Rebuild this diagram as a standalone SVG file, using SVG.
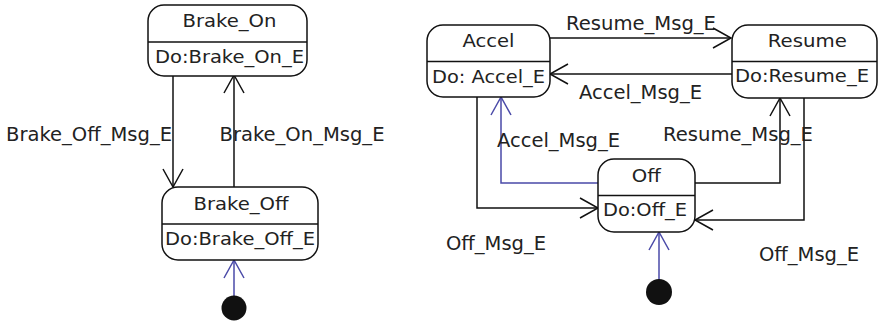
<svg xmlns="http://www.w3.org/2000/svg" width="878" height="326" viewBox="0 0 878 326">
<style>
.box{fill:#fff;stroke:#111;stroke-width:1.5}
.div{stroke:#111;stroke-width:1.5}
.t{font-family:"DejaVu Sans",sans-serif;font-size:17px;fill:#222;text-anchor:middle}
.lbl{font-family:"DejaVu Sans",sans-serif;font-size:20px;fill:#222}
.c{fill:none;stroke:#111;stroke-width:1.5}
.cb{fill:none;stroke:#4a4aa8;stroke-width:1.5}
</style>
<defs>
<marker id="ah" markerUnits="userSpaceOnUse" markerWidth="24" markerHeight="24" viewBox="-20 -12 22 24" refX="0" refY="0" orient="auto">
<path d="M-18,-10 L0,0 L-18,10" fill="none" stroke="#111" stroke-width="1.5"/>
</marker>
<marker id="ahb" markerUnits="userSpaceOnUse" markerWidth="24" markerHeight="24" viewBox="-20 -12 22 24" refX="0" refY="0" orient="auto">
<path d="M-18,-10 L0,0 L-18,10" fill="none" stroke="#4a4aa8" stroke-width="1.5"/>
</marker>
</defs>
<g id="connectors">
<path class="c" d="M173,76 L173,187" marker-end="url(#ah)"/>
<path class="c" d="M234,187 L234,75" marker-end="url(#ah)"/>
<path class="cb" d="M234,296 L234,260" marker-end="url(#ahb)"/>
<path class="c" d="M550,38 L731,38" marker-end="url(#ah)"/>
<path class="c" d="M732,74 L550,74" marker-end="url(#ah)"/>
<path class="cb" d="M598,183 L501,183 L501,97" marker-end="url(#ahb)"/>
<path class="c" d="M695,183 L780,183 L780,98" marker-end="url(#ah)"/>
<path class="c" d="M477,97 L477,208 L598,208" marker-end="url(#ah)"/>
<path class="c" d="M804,98 L804,220 L695,220" marker-end="url(#ah)"/>
<path class="cb" d="M659,280 L659,232" marker-end="url(#ahb)"/>
<text class="lbl" x="6" y="141" textLength="166" lengthAdjust="spacingAndGlyphs">Brake_Off_Msg_E</text>
<text class="lbl" x="219.5" y="141" textLength="165" lengthAdjust="spacingAndGlyphs">Brake_On_Msg_E</text>
<text class="lbl" x="566" y="30" textLength="150" lengthAdjust="spacingAndGlyphs">Resume_Msg_E</text>
<text class="lbl" x="579" y="99" textLength="123" lengthAdjust="spacingAndGlyphs">Accel_Msg_E</text>
<text class="lbl" x="497" y="147" textLength="123" lengthAdjust="spacingAndGlyphs">Accel_Msg_E</text>
<text class="lbl" x="663" y="141" textLength="150" lengthAdjust="spacingAndGlyphs">Resume_Msg_E</text>
<text class="lbl" x="446" y="250" textLength="100" lengthAdjust="spacingAndGlyphs">Off_Msg_E</text>
<text class="lbl" x="759" y="261" textLength="100" lengthAdjust="spacingAndGlyphs">Off_Msg_E</text>
</g>
<g id="brake_on">
<rect class="box" x="148" y="5" width="159" height="71" rx="16"/>
<line class="div" x1="148" y1="42" x2="307" y2="42"/>
<text class="t" x="229.5" y="27" textLength="94" lengthAdjust="spacingAndGlyphs">Brake_On</text>
<text class="t" x="229.5" y="63" textLength="149" lengthAdjust="spacingAndGlyphs">Do:Brake_On_E</text>
</g>
<g id="brake_off">
<rect class="box" x="162" y="187" width="156" height="73" rx="16"/>
<line class="div" x1="162" y1="224" x2="318" y2="224"/>
<text class="t" x="241" y="210" textLength="95" lengthAdjust="spacingAndGlyphs">Brake_Off</text>
<text class="t" x="240" y="245" textLength="150" lengthAdjust="spacingAndGlyphs">Do:Brake_Off_E</text>
</g>
<g id="brake_init">
<circle cx="234" cy="308" r="12.5" fill="#111"/>
</g>
<g id="accel">
<rect class="box" x="427" y="25" width="123" height="72" rx="16"/>
<line class="div" x1="427" y1="61.5" x2="550" y2="61.5"/>
<text class="t" x="488.5" y="47" textLength="52" lengthAdjust="spacingAndGlyphs">Accel</text>
<text class="t" x="488.5" y="83" textLength="113" lengthAdjust="spacingAndGlyphs">Do: Accel_E</text>
</g>
<g id="resume">
<rect class="box" x="732" y="25" width="145" height="73" rx="16"/>
<line class="div" x1="732" y1="61.5" x2="877" y2="61.5"/>
<text class="t" x="807.3" y="47" textLength="79" lengthAdjust="spacingAndGlyphs">Resume</text>
<text class="t" x="802" y="82" textLength="134" lengthAdjust="spacingAndGlyphs">Do:Resume_E</text>
</g>
<g id="off">
<rect class="box" x="598" y="159" width="97" height="73" rx="16"/>
<line class="div" x1="598" y1="195.5" x2="695" y2="195.5"/>
<text class="t" x="646.3" y="181.5" textLength="29" lengthAdjust="spacingAndGlyphs">Off</text>
<text class="t" x="645" y="216" textLength="84" lengthAdjust="spacingAndGlyphs">Do:Off_E</text>
</g>
<g id="off_init">
<circle cx="659" cy="292" r="13" fill="#111"/>
</g>
</svg>
